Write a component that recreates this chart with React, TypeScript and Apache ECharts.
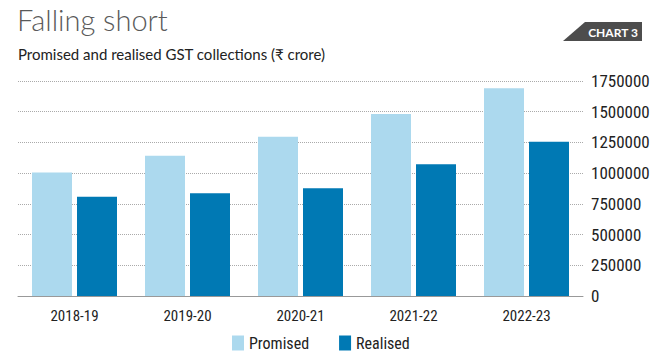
import React, { useEffect, useRef } from "react";
import * as echarts from "echarts";

const categories = ["2018-19", "2019-20", "2020-21", "2021-22", "2022-23"];
const promised = [1005000, 1142000, 1297000, 1481000, 1690000];
const realised = [808000, 836000, 877000, 1072000, 1256000];
const seriesNames = ["Promised", "Realised"];
const titleText = "Falling short";
const subtitleText = "Promised and realised GST collections (₹ crore)";
const badgeText = "CHART 3";

const condensed = "'Liberation Sans Narrow', 'Roboto Condensed', 'DejaVu Sans Condensed', 'Noto Sans', sans-serif";
const bodyFont = "Lato, 'Open Sans', 'Noto Sans', sans-serif";

export default function App() {
  const ref = useRef<HTMLDivElement>(null);
  useEffect(() => {
    if (!ref.current) return;
    const chart = echarts.init(ref.current, null, { renderer: "svg" });
    chart.setOption({
      animation: false,
      backgroundColor: "#ffffff",
      grid: { left: 18, right: 77, top: 81, bottom: 57, containLabel: false },
      legend: {
        left: 227,
        top: 330,
        itemWidth: 12,
        itemHeight: 15,
        itemGap: 30,
        icon: "rect",
        textStyle: { fontFamily: condensed, fontSize: 16, color: "#222" },
        data: seriesNames,
      },
      xAxis: {
        type: "category",
        data: categories,
        axisLine: { lineStyle: { color: "#999", width: 1 } },
        axisTick: { inside: true, length: 4, lineStyle: { color: "#999" } },
        axisLabel: { fontFamily: condensed, fontSize: 15, color: "#222", margin: 12 },
      },
      yAxis: {
        type: "value",
        position: "right",
        min: 0,
        max: 1750000,
        interval: 250000,
        axisLine: { show: false },
        axisTick: { show: false },
        axisLabel: {
          fontFamily: condensed,
          fontSize: 17,
          color: "#222",
          margin: 8,
          formatter: (v: number) => String(v),
        },
        splitLine: { lineStyle: { color: "#aaa", type: "dotted", width: 1 } },
      },
      series: [
        {
          name: seriesNames[0],
          type: "bar",
          data: promised,
          barWidth: 40,
          barGap: "12.5%",
          itemStyle: { color: "#acd9ee" },
        },
        {
          name: seriesNames[1],
          type: "bar",
          data: realised,
          barWidth: 40,
          barGap: "12.5%",
          itemStyle: { color: "#0079b4" },
        },
      ],
      graphic: [
        {
          type: "text",
          left: 17,
          top: 5,
          style: { text: titleText, fontFamily: bodyFont, fontSize: 29, fontWeight: 300, fill: "#5a5a5a" },
        },
        {
          type: "text",
          left: 18,
          top: 46,
          style: { text: subtitleText, fontFamily: bodyFont, fontSize: 15, fill: "#222" },
        },
        {
          type: "polygon",
          shape: { points: [[563, 41], [585, 22], [642, 22], [642, 41]] },
          style: { fill: "#4d4d4d" },
        },
        {
          type: "text",
          x: 613,
          y: 32,
          style: {
            text: badgeText,
            fontFamily: bodyFont,
            fontSize: 12,
            fontWeight: "bold",
            fill: "#fff",
            align: "center",
            verticalAlign: "middle",
          },
        },
      ],
    });
    return () => chart.dispose();
  }, []);
  return <div ref={ref} style={{ position: "absolute", left: 0, top: 0, width: 660, height: 353 }} />;
}
